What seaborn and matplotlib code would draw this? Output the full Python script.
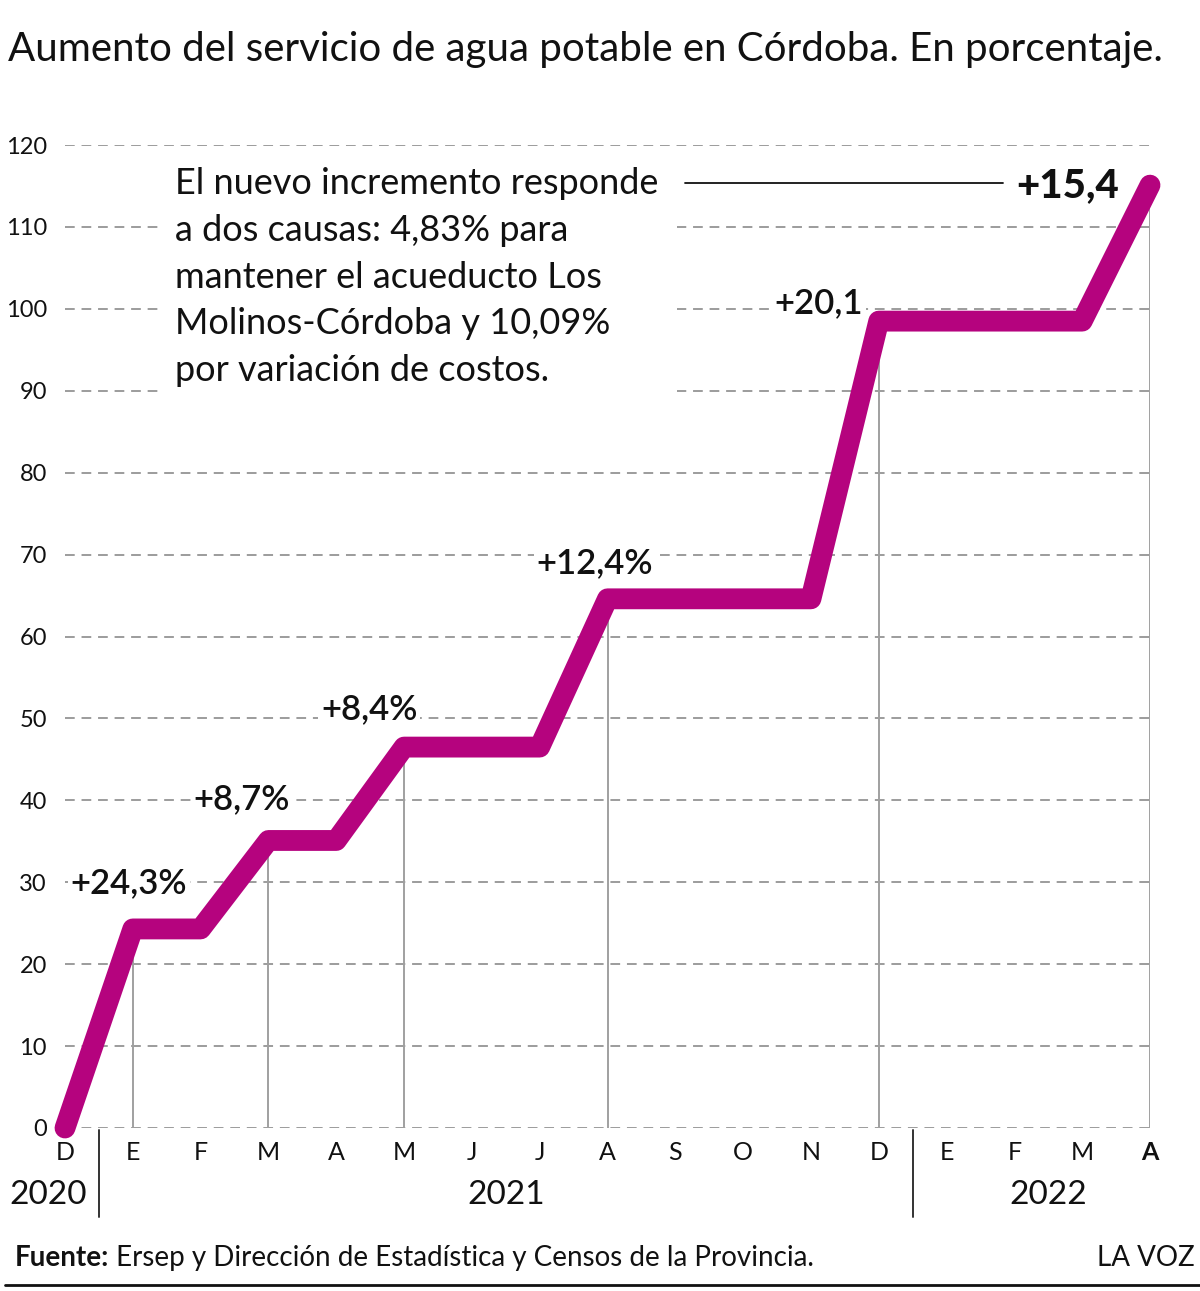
import matplotlib
matplotlib.use("Agg")
import matplotlib.pyplot as plt
from matplotlib.lines import Line2D
from matplotlib.patches import Rectangle
import numpy as np
import pandas as pd
import seaborn as sns

# data
months = ["D", "E", "F", "M", "A", "M", "J", "J", "A", "S", "O", "N",
          "D", "E", "F", "M", "A"]
years = [2020] + [2021] * 12 + [2022] * 4
values = [0, 24.3, 24.3, 35.1, 35.1, 46.5, 46.5, 46.5, 64.6, 64.6, 64.6, 64.6,
          98.5, 98.5, 98.5, 98.5, 115.1]
step_labels = ["+24,3%", "+8,7%", "+8,4%", "+12,4%", "+20,1", "+15,4"]
yticks = list(range(0, 121, 10))

title = "Aumento del servicio de agua potable en Córdoba. En porcentaje."
note_lines = ["El nuevo incremento responde", "a dos causas: 4,83% para",
              "mantener el acueducto Los", "Molinos-Córdoba y 10,09%",
              "por variación de costos."]
source_bold = "Fuente:"
source_rest = " Ersep y Dirección de Estadística y Censos de la Provincia."
brand = "LA VOZ"

MAGENTA = "#B5037E"
W, H = 1200, 1291

sns.set_theme(style="white")
plt.rcParams["font.family"] = ["Lato", "DejaVu Sans"]

df = pd.DataFrame({"x": np.arange(len(months)), "month": months,
                   "year": years, "value": values})

fig = plt.figure(figsize=(W / 100, H / 100), dpi=100)
ax = fig.add_axes([65 / W, (H - 1128) / H, 1085 / W, 983 / H])

# grid
ax.set_ylim(0, 120)
ax.set_xlim(0, 16)
ax.set_yticks(yticks)
ax.set_yticklabels([str(t) for t in yticks], fontsize=17, color="#111")
ax.yaxis.grid(True, linestyle=(0, (5, 3.5)), color="#9c9c9c", lw=1.4)
ax.xaxis.grid(False)
for s in ax.spines.values():
    s.set_visible(False)
ax.tick_params(axis="both", length=0)
ax.tick_params(axis="y", pad=13)
ax.set_xticks(df["x"])
ax.set_xticklabels(df["month"], fontsize=18, color="#111")
ax.tick_params(axis="x", pad=9)
ax.get_xticklabels()[-1].set_fontweight("bold")

# vertical guides at each increase
change = df[df["value"].diff() > 0]
ax.vlines(change["x"], 0, change["value"], color="#a0a0a0", lw=1.4, zorder=1)

# the line
sns.lineplot(data=df, x="x", y="value", ax=ax, color=MAGENTA, linewidth=15,
             solid_capstyle="round", solid_joinstyle="round", clip_on=False,
             zorder=3)
ax.set_xlabel("")
ax.set_ylabel("")

# step labels
offsets = [(-3, 33), (-19, 30), (-25, 27), (-9, 26), (-43, 13)]
for (x, v), lab, (dx, dy) in zip(change[["x", "value"]].values[:-1],
                                step_labels[:-1], offsets):
    ax.annotate(lab, (x, v), xytext=(dx, dy), textcoords="offset points",
                ha="center", va="center", fontsize=25, fontweight="semibold",
                color="#111", zorder=4,
                bbox=dict(facecolor="white", edgecolor="none", pad=2))

# year separators and labels
xt = ax.get_xaxis_transform()
for b in df.index[df["year"].diff() > 0]:
    ax.plot([b - 0.5, b - 0.5], [-0.002, -0.0905], transform=xt,
            color="#333", lw=1.4, clip_on=False)
for yr, g in df.groupby("year"):
    cx = g["x"].mean() if len(g) > 1 else g["x"].iloc[0] - 0.25
    ax.text(cx, -0.068, str(yr), transform=xt, ha="center", va="center",
            fontsize=24, color="#111")

# title
fig.text(8 / W, 1 - 50 / H, title, ha="left", va="center", fontsize=29,
         color="#111")

# note box
fig.add_artist(Rectangle((158 / W, 1 - 405 / H), (677 - 158) / W, 250 / H,
                         transform=fig.transFigure, facecolor="white",
                         edgecolor="none", zorder=2))
for i, line in enumerate(note_lines):
    fig.text(175 / W, 1 - (194 + 46.8 * i) / H, line, ha="left",
             va="baseline", fontsize=26, color="#111", zorder=3)
fig.add_artist(Line2D([685 / W, 1003 / W], [1 - 183 / H, 1 - 183 / H],
                      transform=fig.transFigure, color="#111", lw=1.3))
last = change.iloc[-1]
ax.annotate(step_labels[-1], (last["x"], last["value"]), xytext=(-22, 0),
            textcoords="offset points", ha="right", va="center",
            fontsize=29, fontweight="black", color="#111", zorder=4)

# footer
t1 = fig.text(15 / W, 1 - 1258 / H, source_bold, ha="left", va="center",
              fontsize=20, fontweight="bold", color="#111")
fig.canvas.draw()
bb = t1.get_window_extent()
fig.text(bb.x1 / W, 1 - 1258 / H, source_rest, ha="left", va="center",
         fontsize=20, fontweight="normal", color="#111")
fig.text(1195 / W, 1 - 1258 / H, brand, ha="right", va="center", fontsize=20,
         color="#111")
fig.add_artist(Line2D([5 / W, 1], [1 - 1285 / H, 1 - 1285 / H],
                      transform=fig.transFigure, color="#111", lw=2))

fig.savefig("out.png", dpi=100, facecolor="white")
